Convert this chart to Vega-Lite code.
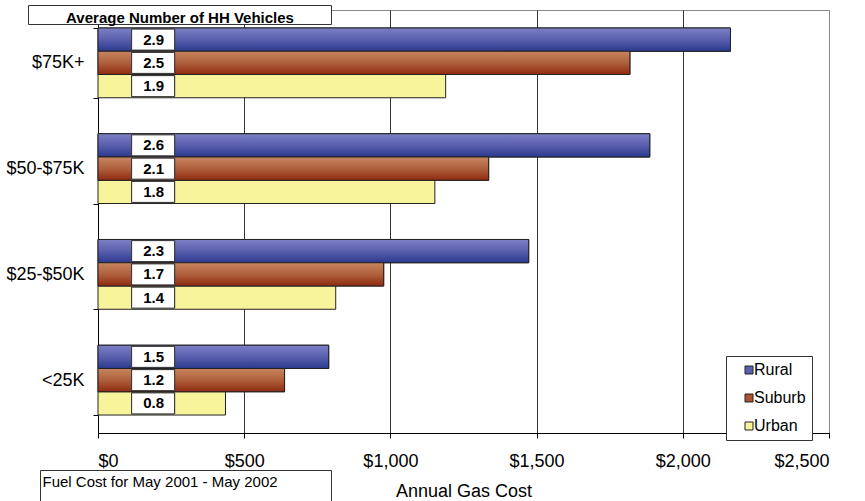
{
  "$schema": "https://vega.github.io/schema/vega-lite/v6.json",
  "width": 731,
  "height": 423,
  "autosize": {"type": "none"},
  "padding": {"left": 98, "top": 10, "right": 36, "bottom": 68},
  "background": "white",
  "config": {
    "font": "Liberation Sans",
    "view": {"stroke": "#888", "strokeWidth": 1}
  },
  "data": {
    "values": [
      {"inc": "$75K+", "type": "Rural", "cost": 2163, "veh": 2.9},
      {"inc": "$75K+", "type": "Suburb", "cost": 1819, "veh": 2.5},
      {"inc": "$75K+", "type": "Urban", "cost": 1189, "veh": 1.9},
      {"inc": "$50-$75K", "type": "Rural", "cost": 1887, "veh": 2.6},
      {"inc": "$50-$75K", "type": "Suburb", "cost": 1336, "veh": 2.1},
      {"inc": "$50-$75K", "type": "Urban", "cost": 1152, "veh": 1.8},
      {"inc": "$25-$50K", "type": "Rural", "cost": 1473, "veh": 2.3},
      {"inc": "$25-$50K", "type": "Suburb", "cost": 977, "veh": 1.7},
      {"inc": "$25-$50K", "type": "Urban", "cost": 813, "veh": 1.4},
      {"inc": "<25K", "type": "Rural", "cost": 789, "veh": 1.5},
      {"inc": "<25K", "type": "Suburb", "cost": 638, "veh": 1.2},
      {"inc": "<25K", "type": "Urban", "cost": 436, "veh": 0.8}
    ]
  },
  "resolve": {"scale": {"fill": "independent"}, "legend": {"fill": "independent"}},
  "encoding": {
    "y": {
      "field": "inc",
      "type": "nominal",
      "sort": ["$75K+", "$50-$75K", "$25-$50K", "<25K"],
      "scale": {"paddingInner": 0.34, "paddingOuter": 0.17},
      "axis": {
        "title": null,
        "labelFontSize": 18,
        "labelColor": "black",
        "labelPadding": 9,
        "tickBand": "extent",
        "tickSize": 5,
        "tickColor": "black",
        "domainColor": "black",
        "grid": false
      }
    },
    "yOffset": {
      "field": "type",
      "type": "nominal",
      "sort": ["Rural", "Suburb", "Urban"],
      "scale": {"paddingInner": 0, "paddingOuter": 0}
    }
  },
  "layer": [
    {
      "mark": {"type": "bar", "stroke": "#222", "strokeWidth": 1},
      "encoding": {
        "x": {
          "field": "cost",
          "type": "quantitative",
          "scale": {"domain": [0, 2500], "nice": false},
          "axis": {
            "values": [0, 500, 1000, 1500, 2000, 2500],
            "format": "$,.0f",
            "title": "Annual Gas Cost",
            "titleFontSize": 18,
            "titleFontWeight": "normal",
            "titleColor": "black",
            "titlePadding": 12,
            "labelFontSize": 18,
            "labelColor": "black",
            "labelPadding": 14,
            "tickSize": 5,
            "tickColor": "black",
            "domainColor": "black",
            "grid": true,
            "gridColor": {"condition": {"test": "datum.value === 2500", "value": "#888"}, "value": "#333"},
            "gridOpacity": 1
          }
        },
        "color": {
          "field": "type",
          "type": "nominal",
          "scale": {"domain": ["Rural", "Suburb", "Urban"], "range": ["#5a60b0", "#ac5230", "#f8f49c"]},
          "legend": {
            "title": null,
            "orient": "none",
            "legendX": 628,
            "legendY": 346,
            "fillColor": "white",
            "strokeColor": "#333",
            "padding": 6,
            "symbolType": "square",
            "symbolSize": 64,
            "symbolStrokeColor": "#222",
            "symbolStrokeWidth": 1,
            "symbolOffset": 9,
            "labelFontSize": 16,
            "labelOffset": -3,
            "labelColor": "black",
            "rowPadding": 12
          }
        }
      }
    },
    {
      "transform": [{"filter": "datum.type === 'Rural'"}],
      "mark": {
        "type": "bar",
        "stroke": "#222",
        "strokeWidth": 1,
        "fill": {"gradient": "linear", "x1": 0, "y1": 0, "x2": 0, "y2": 1,
          "stops": [{"offset": 0, "color": "#7c80c6"}, {"offset": 0.5, "color": "#5a5fae"}, {"offset": 1, "color": "#2a398e"}]}
      },
      "encoding": {"x": {"field": "cost", "type": "quantitative"}}
    },
    {
      "transform": [{"filter": "datum.type === 'Suburb'"}],
      "mark": {
        "type": "bar",
        "stroke": "#222",
        "strokeWidth": 1,
        "fill": {"gradient": "linear", "x1": 0, "y1": 0, "x2": 0, "y2": 1,
          "stops": [{"offset": 0, "color": "#c78660"}, {"offset": 0.5, "color": "#b0603c"}, {"offset": 1, "color": "#8e2a10"}]}
      },
      "encoding": {"x": {"field": "cost", "type": "quantitative"}}
    },
    {
      "mark": {"type": "bar", "fill": "white", "stroke": "#333", "strokeWidth": 1, "height": 21},
      "encoding": {
        "x": {"datum": 115, "type": "quantitative"},
        "x2": {"datum": 262},
        "fill": {
          "datum": 0.5,
          "type": "quantitative",
          "scale": {"domain": [0, 1], "range": ["white", "white"]},
          "legend": {
            "type": "gradient",
            "direction": "horizontal",
            "title": null,
            "orient": "none",
            "legendX": -69.5,
            "legendY": -4.5,
            "padding": 0,
            "gradientLength": 303,
            "gradientThickness": 19,
            "gradientStrokeColor": "#333",
            "gradientStrokeWidth": 1,
            "values": [0.5],
            "labelExpr": "'Average Number of HH Vehicles'",
            "labelFontSize": 15,
            "labelFontWeight": "bold",
            "labelOffset": -13.5,
            "labelLimit": 500,
            "labelColor": "black"
          }
        }
      }
    },
    {
      "mark": {"type": "bar", "fill": "white", "stroke": "#333", "strokeWidth": 1, "height": 21},
      "encoding": {
        "x": {"datum": 115, "type": "quantitative"},
        "x2": {"datum": 262},
        "fill": {
          "datum": 0,
          "type": "quantitative",
          "scale": {"domain": [0, 1], "range": ["white", "white"]},
          "legend": {
            "type": "gradient",
            "direction": "horizontal",
            "title": null,
            "orient": "none",
            "legendX": -57.5,
            "legendY": 460.5,
            "padding": 0,
            "gradientLength": 291,
            "gradientThickness": 40,
            "gradientStrokeColor": "#333",
            "gradientStrokeWidth": 1,
            "values": [0],
            "labelExpr": "'Fuel Cost for May 2001 - May 2002'",
            "labelFontSize": 15,
            "labelOffset": -36,
            "labelLimit": 500,
            "labelColor": "black",
            "encode": {"labels": {"update": {"dx": {"value": 2}}}}
          }
        }
      }
    },
    {
      "mark": {"type": "text", "fontSize": 15, "fontWeight": "bold", "color": "black"},
      "encoding": {
        "x": {"datum": 190, "type": "quantitative"},
        "text": {"field": "veh", "type": "quantitative", "format": ".1f"}
      }
    }
  ]
}
